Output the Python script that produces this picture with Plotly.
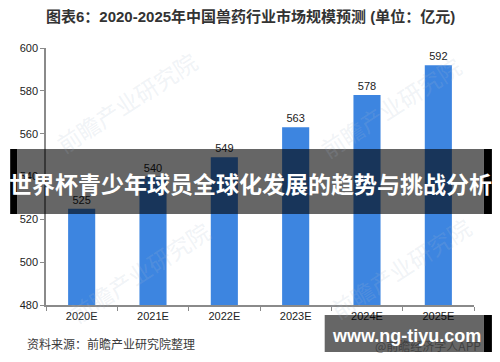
import plotly.graph_objects as go

categories = ["2020E", "2021E", "2022E", "2023E", "2024E", "2025E"]
values = [525, 540, 549, 563, 578, 592]
y_ticks = [480, 500, 520, 540, 560, 580, 600]

title_text = "<b>图表6：2020-2025年中国兽药行业市场规模预测 (单位：亿元)</b>"
source_text = "资料来源：前瞻产业研究院整理"
banner_text = "<b>世界杯青少年球员全球化发展的趋势与挑战分析</b>"
site_text = "<b>www.ng-tiyu.com</b>"
watermark_text = "前瞻产业研究院"
app_text = "@前瞻经济学人APP"

# page body has an 8px margin, so the figure is placed at (8, 8) in the window
OFF = 8
W, H = 500 - OFF, 362 - OFF
PLOT_L, PLOT_R, PLOT_T, PLOT_B = 44, 474, 48, 305  # window pixels
L, T = PLOT_L - OFF, PLOT_T - OFF
R, B = W - (PLOT_R - OFF), H - (PLOT_B - OFF)
PW, PH = PLOT_R - PLOT_L, PLOT_B - PLOT_T


def px(x):
    return (x - PLOT_L) / PW


def py(y):
    return (PLOT_B - y) / PH


FONT = "Liberation Sans, Arial, Noto Sans CJK SC"
CJK = "Noto Sans CJK SC, Liberation Sans"

fig = go.Figure()
fig.add_trace(go.Bar(
    x=categories, y=values,
    marker=dict(color="#3D85E0", line=dict(width=0)),
    text=[str(v) for v in values], textposition="outside",
    textfont=dict(size=11, color="#222222", family=FONT),
    cliponaxis=False,
))

fig.update_layout(
    width=W, height=H,
    margin=dict(l=L, r=R, t=T, b=B),
    paper_bgcolor="white", plot_bgcolor="white",
    bargap=0.62,
    showlegend=False,
    font=dict(family=FONT, size=11, color="#222222"),
    xaxis=dict(
        showline=True, linecolor="#8a8a8a", linewidth=1.5,
        ticks="outside", tickson="boundaries", ticklen=4, tickcolor="#8a8a8a",
        showgrid=False, tickfont=dict(size=11, color="#222222"),
    ),
    yaxis=dict(
        range=[480, 600], tickvals=y_ticks,
        showline=True, linecolor="#8a8a8a", linewidth=1.5,
        ticks="outside", ticklen=4, tickcolor="#8a8a8a",
        showgrid=False, zeroline=False, tickfont=dict(size=11, color="#222222"),
    ),
)

annotations = []
annotations.append(dict(text=title_text, x=px(249), y=py(17), xref="paper", yref="paper",
                        showarrow=False, xanchor="center", yanchor="middle",
                        font=dict(size=15, color="#333333", family=FONT)))
annotations.append(dict(text=source_text, x=px(23), y=py(343), xref="paper", yref="paper",
                        showarrow=False, xanchor="left", yanchor="middle",
                        font=dict(size=12, color="#3a3a3a", family=CJK)))
for cx, cy in [(125, 102), (390, 107), (138, 272), (400, 268)]:
    annotations.append(dict(text=watermark_text, x=px(cx), y=py(cy), xref="paper", yref="paper",
                            showarrow=False, textangle=-33, xanchor="center", yanchor="middle",
                            font=dict(size=23, color="rgba(170,185,205,0.18)", family=CJK)))
annotations.append(dict(text=app_text, x=px(483), y=py(345), xref="paper", yref="paper",
                        showarrow=False, xanchor="right", yanchor="middle",
                        font=dict(size=12, color="rgba(30,30,30,0.55)", family=CJK)))
annotations.append(dict(text=banner_text, x=px(249), y=py(183), xref="paper", yref="paper",
                        showarrow=False, xanchor="center", yanchor="middle",
                        font=dict(size=23, color="white", family=CJK)))
annotations.append(dict(text=site_text, x=px(406), y=py(336), xref="paper", yref="paper",
                        showarrow=False, xanchor="center", yanchor="middle",
                        font=dict(size=18, color="white", family="Liberation Sans, Arial")))
fig.update_layout(annotations=annotations)

shapes = []
shapes.append(dict(type="rect", xref="paper", yref="paper", layer="above",
                   x0=px(15), x1=px(484), y0=py(214), y1=py(149),
                   fillcolor="rgba(0,0,0,0.6)", line=dict(width=0)))
shapes.append(dict(type="rect", xref="paper", yref="paper", layer="above",
                   x0=px(8), x1=px(15), y0=py(214), y1=py(149),
                   fillcolor="black", line=dict(width=0)))
shapes.append(dict(type="rect", xref="paper", yref="paper", layer="above",
                   x0=px(484), x1=px(492), y0=py(214), y1=py(149),
                   fillcolor="black", line=dict(width=0)))
shapes.append(dict(type="rect", xref="paper", yref="paper", layer="above",
                   x0=px(324), x1=px(484), y0=py(352), y1=py(315),
                   fillcolor="rgba(0,0,0,0.6)", line=dict(width=0)))
shapes.append(dict(type="rect", xref="paper", yref="paper", layer="above",
                   x0=px(484), x1=px(492), y0=py(352), y1=py(315),
                   fillcolor="black", line=dict(width=0)))
fig.update_layout(shapes=shapes)

fig.write_html("out.html")
